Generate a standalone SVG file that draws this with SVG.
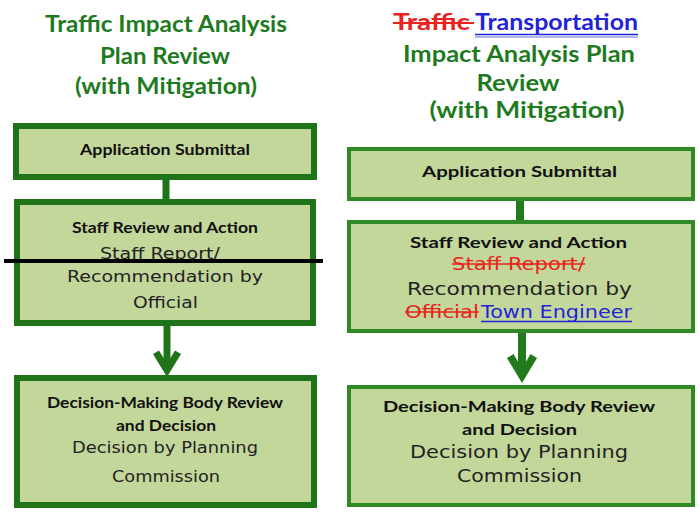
<svg xmlns="http://www.w3.org/2000/svg" width="700" height="512" viewBox="0 0 700 512">
<style>
.title{font-family:Lato,"Liberation Sans",sans-serif;font-weight:bold;font-size:23px;fill:#1e7a1e;text-anchor:middle}
.b{font-family:Lato,"Liberation Sans",sans-serif;font-weight:bold;fill:#111;text-anchor:middle}
.r{font-family:"DejaVu Sans","Liberation Sans",sans-serif;fill:#222;text-anchor:middle}
.bl{font-size:14.5px}.br{font-size:16px}
.rl{font-size:16px}.rr{font-size:18px}
.boxL{fill:#c4d79b;stroke:#1f7419;stroke-width:6}
.boxR{fill:#c4d79b;stroke:#2f8a26;stroke-width:4}
.del{fill:#e8231e}.ins{fill:#2323d6}
.conL{stroke:#1f7419;stroke-width:7;fill:none}
.conR{stroke:#237a1c;stroke-width:8;fill:none}
</style>
<defs>
<marker id="chevL" markerUnits="userSpaceOnUse" viewBox="-30 -16 32 32" markerWidth="32" markerHeight="32" refX="-11" refY="0" orient="auto" overflow="visible">
<polygon points="0,0 -23,-14 -26.6,-8 -13.5,0 -26.6,8 -23,14" fill="#1f7419"/>
</marker>
<marker id="chevR" markerUnits="userSpaceOnUse" viewBox="-30 -16 32 32" markerWidth="32" markerHeight="32" refX="-11" refY="0" orient="auto" overflow="visible">
<polygon points="0,0 -25,-15 -29,-8.5 -14.5,0 -29,8.5 -25,15" fill="#237a1c"/>
</marker>
</defs>
<rect width="700" height="512" fill="#fff"/>

<g id="titleLeft">
<text class="title" x="166" y="32" textLength="242" lengthAdjust="spacingAndGlyphs">Traffic Impact Analysis</text>
<text class="title" x="165" y="64" textLength="130" lengthAdjust="spacingAndGlyphs">Plan Review</text>
<text class="title" x="166" y="94" textLength="182" lengthAdjust="spacingAndGlyphs">(with Mitigation)</text>
</g>

<g id="titleRight">
<text class="title del" x="393" y="30" text-anchor="start" style="text-anchor:start" textLength="77" lengthAdjust="spacingAndGlyphs">Traffic</text>
<line x1="393" y1="23" x2="474" y2="23" stroke="#e8231e" stroke-width="2"/>
<text class="title ins" x="475" y="30" style="text-anchor:start" textLength="163" lengthAdjust="spacingAndGlyphs">Transportation</text>
<line x1="475" y1="34.5" x2="638" y2="34.5" stroke="#2323d6" stroke-width="1.5"/>
<line x1="475" y1="37" x2="638" y2="37" stroke="#7070e0" stroke-width="1.2"/>
<text class="title" x="519" y="62" textLength="232" lengthAdjust="spacingAndGlyphs">Impact Analysis Plan</text>
<text class="title" x="518" y="91" textLength="83" lengthAdjust="spacingAndGlyphs">Review</text>
<text class="title" x="527" y="118" textLength="195" lengthAdjust="spacingAndGlyphs">(with Mitigation)</text>
</g>

<g id="connectors">
<line class="conL" x1="166" y1="177" x2="166" y2="202"/>
<path class="conL" d="M167 323 V366" marker-end="url(#chevL)"/>
<line class="conR" x1="520" y1="199" x2="520" y2="222"/>
<path class="conR" d="M522 331 V372" marker-end="url(#chevR)"/>
</g>

<g id="appSubmittalLeft">
<rect class="boxL" x="16" y="126" width="298" height="51"/>
<text class="b bl" x="165" y="155" textLength="170" lengthAdjust="spacingAndGlyphs">Application Submittal</text>
</g>

<g id="staffReviewLeft">
<rect class="boxL" x="17" y="202" width="296" height="121"/>
<text class="b bl" x="165" y="233" textLength="186" lengthAdjust="spacingAndGlyphs">Staff Review and Action</text>
<text class="r rl" x="160" y="259" textLength="120" lengthAdjust="spacingAndGlyphs">Staff Report/</text>
<line x1="4" y1="261" x2="323" y2="261" stroke="#000" stroke-width="4"/>
<text class="r rl" x="165" y="282" textLength="196" lengthAdjust="spacingAndGlyphs">Recommendation by</text>
<text class="r rl" x="165.5" y="308" textLength="65" lengthAdjust="spacingAndGlyphs">Official</text>
</g>

<g id="decisionLeft">
<rect class="boxL" x="17" y="378" width="297" height="127"/>
<text class="b bl" x="165" y="408" textLength="236" lengthAdjust="spacingAndGlyphs">Decision-Making Body Review</text>
<text class="b bl" x="166" y="431" textLength="100" lengthAdjust="spacingAndGlyphs">and Decision</text>
<text class="r rl" x="165" y="453" textLength="186" lengthAdjust="spacingAndGlyphs">Decision by Planning</text>
<text class="r rl" x="166" y="482" textLength="108" lengthAdjust="spacingAndGlyphs">Commission</text>
</g>

<g id="appSubmittalRight">
<rect class="boxR" x="349" y="149" width="344" height="50"/>
<text class="b br" x="519.5" y="177" textLength="195" lengthAdjust="spacingAndGlyphs">Application Submittal</text>
</g>

<g id="staffReviewRight">
<rect class="boxR" x="349" y="222" width="344" height="109"/>
<text class="b br" x="518.5" y="248" textLength="217" lengthAdjust="spacingAndGlyphs">Staff Review and Action</text>
<text class="r rr del" x="518.5" y="270" textLength="133" lengthAdjust="spacingAndGlyphs">Staff Report/</text>
<line x1="452" y1="264" x2="585" y2="264" stroke="#e8231e" stroke-width="1.6"/>
<text class="r rr" x="519.5" y="295" textLength="225" lengthAdjust="spacingAndGlyphs">Recommendation by</text>
<text class="r rr del" x="405" y="318" style="text-anchor:start" textLength="74" lengthAdjust="spacingAndGlyphs">Official</text>
<line x1="405" y1="312" x2="479" y2="312" stroke="#e8231e" stroke-width="1.6"/>
<text class="r rr ins" x="481" y="318" style="text-anchor:start" textLength="151" lengthAdjust="spacingAndGlyphs">Town Engineer</text>
<line x1="481" y1="321.5" x2="632" y2="321.5" stroke="#2323d6" stroke-width="1.5"/>
</g>

<g id="decisionRight">
<rect class="boxR" x="349" y="387" width="344" height="118"/>
<text class="b br" x="519" y="412" textLength="272" lengthAdjust="spacingAndGlyphs">Decision-Making Body Review</text>
<text class="b br" x="519.5" y="435" textLength="115" lengthAdjust="spacingAndGlyphs">and Decision</text>
<text class="r rr" x="519" y="458" textLength="218" lengthAdjust="spacingAndGlyphs">Decision by Planning</text>
<text class="r rr" x="519.5" y="482" textLength="125" lengthAdjust="spacingAndGlyphs">Commission</text>
</g>
</svg>
